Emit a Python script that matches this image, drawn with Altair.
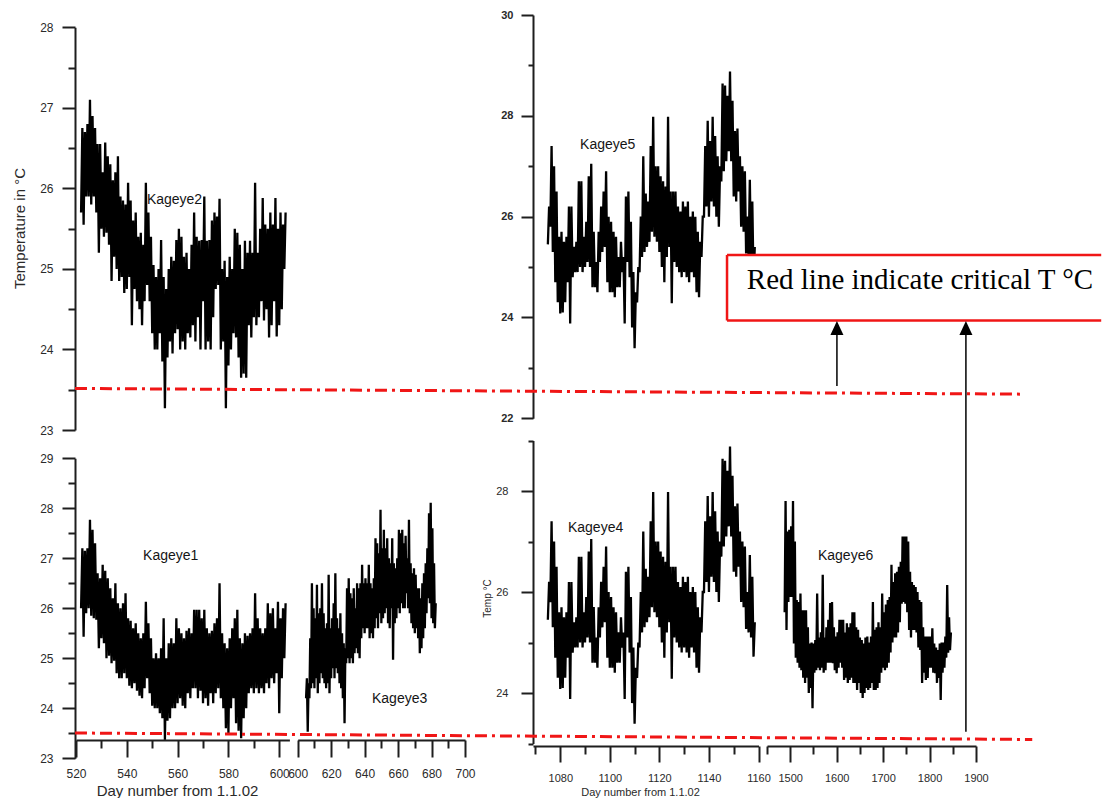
import altair as alt
import pandas as pd

# ---------------- readings (deg C) ----------------
# each series: daily (or 4-daily) low / high envelope of the logger trace
K2_DAY0, K2_STEP = 522, 1          # Kageye2, days 522..602
K2_HI = [26.75, 26.7, 26.8, 27.1, 26.9, 26.75, 26.55, 26.55, 26.2, 26.57,
         26.4, 26.3, 26.1, 26.2, 26.4, 25.9, 25.85, 25.8, 26.07, 25.85,
         25.6, 25.7, 25.4, 25.45, 25.3, 26.07, 25.7, 25.4, 25.05, 24.9,
         25.0, 25.36, 24.9, 24.75, 25.0, 25.15, 25.1, 25.36, 25.5, 25.4,
         25.15, 25.2, 25.0, 25.3, 25.7, 25.4, 25.35, 25.36, 25.9, 25.35,
         25.36, 25.6, 25.7, 25.65, 25.87, 25.0, 25.1, 24.9, 25.15, 25.0,
         25.5, 25.45, 25.3, 25.0, 25.35, 25.2, 25.35, 25.2, 26.07, 25.2,
         25.5, 25.88, 25.55, 25.5, 25.7, 25.55, 25.88, 25.5, 25.7, 25.55,
         25.7]
K2_LO = [25.7, 25.55, 25.9, 25.9, 25.8, 25.9, 25.7, 25.2, 25.5, 25.4,
         25.45, 25.3, 24.85, 25.15, 25.0, 24.85, 24.9, 24.7, 24.75, 24.9,
         24.3, 24.75, 24.6, 24.5, 24.3, 24.6, 24.8, 24.6, 24.2, 24.0,
         24.0, 24.2, 23.85, 23.27, 23.9, 24.1, 23.95, 24.2, 24.25, 24.0,
         24.1, 24.0, 24.2, 24.15, 24.3, 24.1, 24.4, 24.0, 24.6, 24.0,
         24.1, 24.0, 24.4, 24.75, 24.8, 24.0, 24.1, 23.27, 23.8, 24.0,
         24.2, 24.15, 23.9, 23.65, 23.7, 23.65, 24.3, 24.15, 24.4, 24.3,
         24.4, 24.6, 24.36, 24.5, 24.15, 24.3, 24.6, 24.16, 24.3, 24.5,
         25.0]

K1_DAY0, K1_STEP = 522, 1          # Kageye1, days 522..602
K1_HI = [27.2, 27.15, 27.2, 27.77, 27.57, 27.3, 26.7, 26.6, 26.87, 26.75,
         26.6, 26.4, 26.2, 26.5, 26.1, 26.0, 26.1, 26.3, 25.8, 25.75,
         25.6, 25.7, 25.5, 25.4, 25.5, 26.13, 25.7, 25.4, 25.0, 25.1,
         25.0, 25.2, 25.8, 25.0, 25.3, 25.4, 25.3, 25.8, 25.6, 25.5,
         25.4, 25.55, 25.6, 25.5, 25.97, 25.97, 25.97, 25.8, 25.97, 25.6,
         25.5, 25.55, 25.7, 25.8, 26.5, 25.5, 25.3, 25.2, 25.4, 25.6,
         25.8, 25.97, 25.4, 25.3, 25.5, 25.45, 25.5, 25.6, 26.3, 25.8,
         25.6, 25.5, 25.6, 26.1, 25.9, 26.0, 25.6, 26.13, 25.8, 26.0,
         26.1]
K1_LO = [26.0, 25.43, 25.9, 26.0, 25.85, 25.8, 25.77, 25.2, 25.4, 25.3,
         25.0, 25.05, 24.9, 24.95, 24.7, 24.6, 24.6, 24.7, 24.6, 24.45,
         24.4, 24.5, 24.35, 24.25, 24.2, 24.4, 24.6, 24.3, 24.05, 24.0,
         24.0, 23.9, 23.8, 23.37, 23.75, 23.8, 24.0, 24.0, 24.1, 24.2,
         24.05, 24.0, 24.3, 24.2, 24.4, 24.4, 24.2, 24.35, 24.1, 24.2,
         24.05, 24.3, 24.1, 24.3, 24.4, 24.2, 24.0, 23.6, 23.5, 24.0,
         24.2, 23.7, 23.55, 23.4, 23.8, 24.0, 24.3, 24.4, 24.3, 24.4,
         24.3, 24.4, 24.3, 24.5, 24.4, 24.6, 24.5, 24.7, 23.9, 24.6,
         25.0]

K3_DAY0, K3_STEP = 605, 1          # Kageye3, days 605..682
K3_HI = [24.6, 24.5, 25.4, 26.5, 26.0, 25.8, 26.47, 25.9, 26.0, 26.5,
         25.9, 25.6, 25.7, 26.67, 25.6, 25.8, 26.1, 26.7, 25.8, 25.6,
         25.9, 25.5, 25.3, 25.2, 26.4, 26.6, 26.3, 26.2, 26.4, 26.0,
         26.5, 26.4, 26.5, 26.87, 26.5, 26.6, 26.5, 26.87, 26.5, 26.4,
         26.6, 27.4, 27.3, 27.1, 27.97, 27.2, 27.57, 27.2, 27.4, 27.0,
         26.9, 27.4, 26.9, 26.8, 27.0, 27.57, 27.5, 27.57, 27.3, 27.45,
         27.0, 27.77, 26.9, 26.7, 26.8, 26.67, 26.4, 26.4, 26.2, 26.5,
         26.7, 26.9, 27.2, 27.9, 28.11, 27.6, 26.9, 26.1]
K3_LO = [24.2, 23.53, 24.2, 24.4, 24.5, 24.4, 24.6, 24.3, 24.5, 24.7,
         24.6, 24.5, 24.4, 24.5, 24.3, 24.6, 24.8, 24.6, 24.8, 24.7,
         24.5, 24.4, 24.2, 23.7, 24.9, 25.0, 24.9, 25.0, 24.9, 25.1,
         25.2, 25.1, 25.0, 25.4, 25.6, 25.5, 25.6, 25.6, 25.4, 25.5,
         25.4, 25.6, 25.8, 25.6, 25.9, 25.7, 25.8, 25.9, 26.0, 25.7,
         25.6, 26.0, 24.97, 25.7, 25.8, 26.0, 25.9, 26.1, 26.0, 26.0,
         26.3, 26.0, 25.9, 25.7, 25.6, 25.5, 25.6, 25.4, 25.1, 25.2,
         25.4, 25.6, 25.9, 26.2, 26.1, 25.8, 25.7, 25.6]

K45_DAY0, K45_STEP = 1075, 1       # Kageye4 / Kageye5 (same trace), days 1075..1158
K45_HI = [26.2, 27.4, 27.0, 26.5, 25.6, 25.7, 25.5, 25.6, 26.2, 26.2,
          25.4, 25.5, 26.7, 26.7, 25.6, 25.9, 26.8, 27.05, 25.7, 25.1,
          25.7, 26.2, 26.5, 26.9, 26.0, 25.9, 25.7, 25.6, 25.2, 25.5,
          25.2, 26.4, 26.5, 25.9, 24.9, 24.5, 25.0, 26.0, 27.2, 26.46,
          26.3, 27.4, 27.98, 27.0, 27.0, 26.8, 26.7, 26.6, 27.98, 26.5,
          26.5, 26.5, 26.2, 26.1, 26.3, 26.2, 26.3, 26.0, 26.1, 26.0,
          25.7, 25.5, 26.0, 27.4, 27.9, 27.5, 27.98, 27.6, 27.2, 27.0,
          28.64, 28.6, 28.4, 28.88, 28.3, 27.7, 27.75, 27.2, 27.0, 26.9,
          26.0, 26.73, 26.3, 25.4]
K45_LO = [25.45, 25.8, 25.3, 24.7, 24.3, 24.08, 24.1, 24.3, 24.7, 23.88,
          24.8, 24.9, 24.9, 25.0, 24.9, 25.0, 25.1, 25.0, 24.6, 24.6,
          24.5, 25.1, 25.3, 25.4, 24.7, 24.5, 24.5, 24.4, 24.6, 24.6,
          24.9, 23.88, 25.1, 24.8, 23.8, 23.39, 24.3, 24.9, 25.2, 25.3,
          25.4, 25.5, 25.7, 25.6, 25.5, 25.3, 25.0, 24.7, 25.2, 25.4,
          24.28, 25.1, 25.0, 24.9, 24.8, 24.9, 24.8, 24.7, 24.9, 24.8,
          24.5, 24.4, 25.2, 26.0, 26.2, 26.0, 26.3, 26.2, 26.0, 25.8,
          26.7, 26.9, 27.1, 27.3, 27.1, 26.4, 26.3, 26.5, 25.8, 25.7,
          25.27, 25.2, 25.1, 24.72]

K6_DAY0, K6_STEP = 1488, 4         # Kageye6, days 1488..1844
K6_HI = [27.8, 27.2, 27.23, 27.3, 27.8, 27.0, 25.84, 25.8, 25.97, 25.64,
         25.64, 25.64, 25.3, 24.98, 25.0, 24.98, 25.05, 25.97, 25.1, 25.2,
         26.34, 25.1, 25.3, 25.45, 25.78, 25.8, 25.3, 25.12, 25.2, 25.45,
         25.45, 25.45, 25.2, 25.38, 25.3, 25.38, 25.6, 25.6, 25.3, 25.25,
         25.1, 25.05, 24.98, 25.1, 25.12, 25.0, 25.12, 25.8, 25.25, 25.3,
         25.4, 25.3, 25.97, 25.6, 25.75, 25.84, 25.9, 26.54, 26.2, 26.37,
         26.4, 26.5, 26.6, 27.1, 27.1, 27.1, 27.0, 26.4, 26.2, 26.14,
         26.1, 26.0, 25.84, 25.8, 25.3, 25.12, 25.12, 25.12, 25.12, 25.28,
         24.98, 24.9, 24.85, 24.98, 25.0, 25.0, 25.12, 26.14, 25.5, 25.2]
K6_LO = [25.6, 25.25, 25.8, 25.9, 25.9, 24.98, 24.7, 24.6, 24.5, 24.45,
         24.3, 24.2, 24.3, 24.0, 24.1, 23.7, 24.4, 24.45, 24.5, 24.45,
         24.5, 24.4, 24.45, 24.6, 24.6, 24.6, 24.59, 24.45, 24.39, 24.5,
         24.6, 24.5, 24.26, 24.3, 24.2, 24.26, 24.3, 24.2, 24.2, 24.06,
         24.2, 24.0, 23.9, 24.0, 24.1, 24.06, 24.1, 24.2, 24.06, 24.06,
         24.1, 24.2, 24.4, 24.5, 24.45, 24.5, 24.6, 24.8, 25.0, 25.1,
         25.1, 25.2, 25.4, 25.77, 25.8, 25.77, 25.6, 25.25, 25.1, 25.25,
         25.25, 25.2, 24.9, 24.85, 24.2, 24.4, 24.26, 24.3, 24.5, 24.5,
         24.4, 24.39, 24.2, 24.3, 23.86, 24.4, 24.5, 24.7, 24.8, 24.85]

# critical-temperature lines as drawn (start value, end value; slightly slanted in the figure)
CRIT_TOP = [23.516, 23.445]
CRIT_BOT = [23.506, 23.376]
CRIT_X = [519.6, 892.8, 896.4]     # day-scale start and ends of the two lines

# tick values / labels
TL_Y_MAJOR = [23, 24, 25, 26, 27, 28]
TL_Y_MINOR = [23.5, 24.5, 25.5, 26.5, 27.5]
BL_Y_MAJOR = [23, 24, 25, 26, 27, 28, 29]
BL_Y_MINOR = [23.5, 24.5, 25.5, 26.5, 27.5, 28.5]
BL_X1_MAJOR = [520, 540, 560, 580, 600]
BL_X1_MINOR = [530, 550, 570, 590]
BL_X2_MAJOR = [600, 620, 640, 660, 680, 700]
BL_X2_MINOR = [610, 630, 650, 670, 690]
TR_Y_MAJOR = [22, 24, 26, 28, 30]
TR_Y_MINOR = [23, 25, 27, 29]
BR_Y_MAJOR = [24, 26, 28]
BR_Y_MINOR = [23, 25, 27, 29]
BR_X1_MAJOR = [1080, 1100, 1120, 1140, 1160]
BR_X1_MINOR = [1070, 1090, 1110, 1130, 1150]
BR_X2_MAJOR = [1500, 1600, 1700, 1800, 1900]
BR_X2_MINOR = [1450, 1550, 1650, 1750, 1850]

SERIES_LABELS = ["Kageye2", "Kageye1", "Kageye3", "Kageye5", "Kageye4", "Kageye6"]
NOTE_TEXT = "Red line indicate critical T \u00b0C"

# ---------------- layout (pixel ranges of each panel scale) ----------------
W, H = 1094, 738
INK = "#1e1e1e"
RED = "#f01616"
SANS = "Liberation Sans"
LINE_W = 2.3


def sc(domain, rng):
    return alt.Scale(domain=domain, range=rng, nice=False, zero=False)


XL = lambda: sc([520, 604], [68, 281.4])
XL2 = lambda: sc([600, 700], [289.7, 457])
YTL = lambda: sc([23, 28], [422, 19.3])
YBL = lambda: sc([23, 29], [750.3, 450.3])
XR = lambda: sc([1069, 1160], [525, 750.5])
XR2 = lambda: sc([1450, 1900], [759, 968])
YTR = lambda: sc([22, 30], [410.3, 7])
YBR = lambda: sc([23, 29], [735.5, 432.5])

BASE = dict(grid=False, domainColor=INK, domainWidth=2, tickColor=INK, tickWidth=2,
            labelColor="#2a2a2a", labelFont=SANS, labelOverlap=False, labelFlush=False,
            titleFont=SANS, titleColor="#2a2a2a", titleFontWeight="normal", format="d")


def major(orient, offset, values, tick, pad, size, **kw):
    opts = dict(BASE)
    opts.update(kw)
    if "title" not in opts:
        opts["title"] = None
    return alt.Axis(orient=orient, offset=offset, values=values, tickSize=tick,
                    labelPadding=pad, labelFontSize=size, **opts)


def minor(orient, offset, values, tick):
    return alt.Axis(orient=orient, offset=offset, values=values, tickSize=tick, labels=False,
                    domain=False, grid=False, title=None, tickColor=INK, tickWidth=2)


def envelope(day0, step, lo, hi):
    rows = []
    for i, (l, h) in enumerate(zip(lo, hi)):
        d = day0 + i * step
        rows.append({"day": d, "temp": l, "i": 2 * i})
        rows.append({"day": d + step / 2, "temp": h, "i": 2 * i + 1})
    return pd.DataFrame(rows)


def trace(df, xs, ys, xaxis=None, yaxis=None):
    return alt.Chart(df).mark_line(color="black", strokeWidth=LINE_W).encode(
        x=alt.X("day:Q", scale=xs, axis=xaxis),
        y=alt.Y("temp:Q", scale=ys, axis=yaxis),
        order="i:Q",
    )


def ghost(xs, ys, x0, y0, xaxis=None, yaxis=None):
    df = pd.DataFrame({"day": [x0], "temp": [y0]})
    return alt.Chart(df).mark_point(opacity=0).encode(
        x=alt.X("day:Q", scale=xs, axis=xaxis),
        y=alt.Y("temp:Q", scale=ys, axis=yaxis),
    )


def label(text, x, y, xs, ys):
    df = pd.DataFrame({"day": [x], "temp": [y], "t": [text]})
    return alt.Chart(df).mark_text(align="left", baseline="middle", font=SANS, fontSize=14,
                                   color="#151515").encode(
        x=alt.X("day:Q", scale=xs, axis=None),
        y=alt.Y("temp:Q", scale=ys, axis=None),
        text="t:N",
    )


k2 = envelope(K2_DAY0, K2_STEP, K2_LO, K2_HI)
k1 = envelope(K1_DAY0, K1_STEP, K1_LO, K1_HI)
k3 = envelope(K3_DAY0, K3_STEP, K3_LO, K3_HI)
k45 = envelope(K45_DAY0, K45_STEP, K45_LO, K45_HI)
k6 = envelope(K6_DAY0, K6_STEP, K6_LO, K6_HI)

layers = []

# ---- top-left: Kageye2 ----
layers.append(trace(k2, XL(), YTL(), yaxis=major(
    "left", -67, TL_Y_MAJOR, 13, 9, 12, title="Temperature in \u00b0C",
    titleX=-48, titleY=220, titleFontSize=15)))
layers.append(ghost(XL(), YTL(), 520, 23, yaxis=minor("left", -67, TL_Y_MINOR, 7)))

# ---- bottom-left: Kageye1 and Kageye3 ----
layers.append(trace(k1, XL(), YBL(),
                    xaxis=major("bottom", -6, BL_X1_MAJOR, 17, 11, 12,
                                title="Day number from 1.1.02", titleX=169, titleY=55,
                                titleBaseline="alphabetic", titleFontSize=15),
                    yaxis=major("left", -67, BL_Y_MAJOR, 13, 9, 12)))
layers.append(ghost(XL(), YBL(), 520, 23,
                    xaxis=minor("bottom", -6, BL_X1_MINOR, 8),
                    yaxis=minor("left", -67, BL_Y_MINOR, 7)))
layers.append(trace(k3, XL2(), YBL(), xaxis=major("bottom", -6, BL_X2_MAJOR, 17, 11, 12)))
layers.append(ghost(XL2(), YBL(), 600, 23, xaxis=minor("bottom", -6, BL_X2_MINOR, 8)))

# ---- top-right: Kageye5 ----
layers.append(trace(k45, XR(), YTR(), yaxis=major("left", -525, TR_Y_MAJOR, 12, 8, 11,
                                                  labelFontWeight="bold")))
layers.append(ghost(XR(), YTR(), 1080, 22, yaxis=minor("left", -525, TR_Y_MINOR, 5)))

# ---- bottom-right: Kageye4 and Kageye6 ----
layers.append(trace(k45, XR(), YBR(),
                    xaxis=major("bottom", 0, BR_X1_MAJOR, 16, 10, 11,
                                title="Day number from 1.1.02", titleX=632, titleY=49,
                                titleBaseline="alphabetic", titleFontSize=11),
                    yaxis=major("left", -525, BR_Y_MAJOR, 12, 13, 11,
                                title="Temp \u00b0C", titleX=-41, titleY=590, titleFontSize=10)))
layers.append(ghost(XR(), YBR(), 1080, 23,
                    xaxis=minor("bottom", 0, BR_X1_MINOR, 8),
                    yaxis=minor("left", -525, BR_Y_MINOR, 5)))
layers.append(trace(k6, XR2(), YBR(), xaxis=major("bottom", 0, BR_X2_MAJOR, 16, 10, 11)))
layers.append(ghost(XR2(), YBR(), 1500, 23, xaxis=minor("bottom", 0, BR_X2_MINOR, 8)))

# ---- series names ----
layers.append(label(SERIES_LABELS[0], 547.9, 25.86, XL(), YTL()))
layers.append(label(SERIES_LABELS[1], 546.4, 27.05, XL(), YBL()))
layers.append(label(SERIES_LABELS[2], 644.4, 24.19, XL2(), YBL()))
layers.append(label(SERIES_LABELS[3], 1088.0, 27.42, XR(), YTR()))
layers.append(label(SERIES_LABELS[4], 1083.1, 27.27, XR(), YBR()))
layers.append(label(SERIES_LABELS[5], 1559.7, 26.71, XR2(), YBR()))

# ---- critical temperature lines ----
dash = [12, 5, 3, 5]
crit_top = pd.DataFrame({"x": [CRIT_X[0]], "x2": [CRIT_X[1]], "y": [CRIT_TOP[0]], "y2": [CRIT_TOP[1]]})
crit_bot = pd.DataFrame({"x": [CRIT_X[0]], "x2": [CRIT_X[2]], "y": [CRIT_BOT[0]], "y2": [CRIT_BOT[1]]})
layers.append(alt.Chart(crit_top).mark_rule(color=RED, strokeWidth=3, strokeDash=dash).encode(
    x=alt.X("x:Q", scale=XL(), axis=None), x2="x2:Q",
    y=alt.Y("y:Q", scale=YTL(), axis=None), y2="y2:Q"))
layers.append(alt.Chart(crit_bot).mark_rule(color=RED, strokeWidth=3, strokeDash=dash).encode(
    x=alt.X("x:Q", scale=XL(), axis=None), x2="x2:Q",
    y=alt.Y("y:Q", scale=YBL(), axis=None), y2="y2:Q"))

# ---- note box with arrows (top-right panel coordinates) ----
BOX = {"x0": 1147.3, "x1": 1298.3, "ytop": 25.24, "ybot": 23.94}
box_df = pd.DataFrame({"x": [BOX["x0"]], "x2": [BOX["x1"]], "y": [BOX["ytop"]], "y2": [BOX["ybot"]]})
layers.append(alt.Chart(box_df).mark_rect(fill="white", strokeWidth=0).encode(
    x=alt.X("x:Q", scale=XR(), axis=None), x2="x2:Q",
    y=alt.Y("y:Q", scale=YTR(), axis=None), y2="y2:Q"))
edges = pd.DataFrame({
    "x": [BOX["x0"], BOX["x0"], BOX["x0"]],
    "x2": [BOX["x1"], BOX["x1"], BOX["x0"]],
    "y": [BOX["ytop"], BOX["ybot"], BOX["ytop"]],
    "y2": [BOX["ytop"], BOX["ybot"], BOX["ybot"]],
})
layers.append(alt.Chart(edges).mark_rule(color=RED, strokeWidth=2.5).encode(
    x=alt.X("x:Q", scale=XR(), axis=None), x2="x2:Q",
    y=alt.Y("y:Q", scale=YTR(), axis=None), y2="y2:Q"))
note = pd.DataFrame({"x": [1155.3], "y": [24.56], "t": [NOTE_TEXT]})
layers.append(alt.Chart(note).mark_text(align="left", baseline="alphabetic", font="Liberation Serif",
                                        fontSize=29, color="black").encode(
    x=alt.X("x:Q", scale=XR(), axis=None),
    y=alt.Y("y:Q", scale=YTR(), axis=None),
    text="t:N"))

arrows = pd.DataFrame({"x": [1191.65, 1243.7], "y": [22.64, 15.78], "y2": [23.75, 23.75]})
layers.append(alt.Chart(arrows).mark_rule(color="black", strokeWidth=1.5).encode(
    x=alt.X("x:Q", scale=XR(), axis=None),
    y=alt.Y("y:Q", scale=YTR(), axis=None), y2="y2:Q"))
heads = pd.DataFrame({"x": [1191.65, 1243.7], "y": [23.79, 23.79]})
layers.append(alt.Chart(heads).mark_point(shape="M0,-1L-0.93,1L0.93,1Z", size=196, filled=True,
                                          color="black", opacity=1).encode(
    x=alt.X("x:Q", scale=XR(), axis=None),
    y=alt.Y("y:Q", scale=YTR(), axis=None)))

chart = alt.layer(*layers).resolve_scale(x="independent", y="independent").resolve_axis(
    x="independent", y="independent"
).properties(width=W, height=H, padding=0, background="white").configure_view(stroke=None)

chart.save("out.html", embed_options={"renderer": "svg", "actions": False})
